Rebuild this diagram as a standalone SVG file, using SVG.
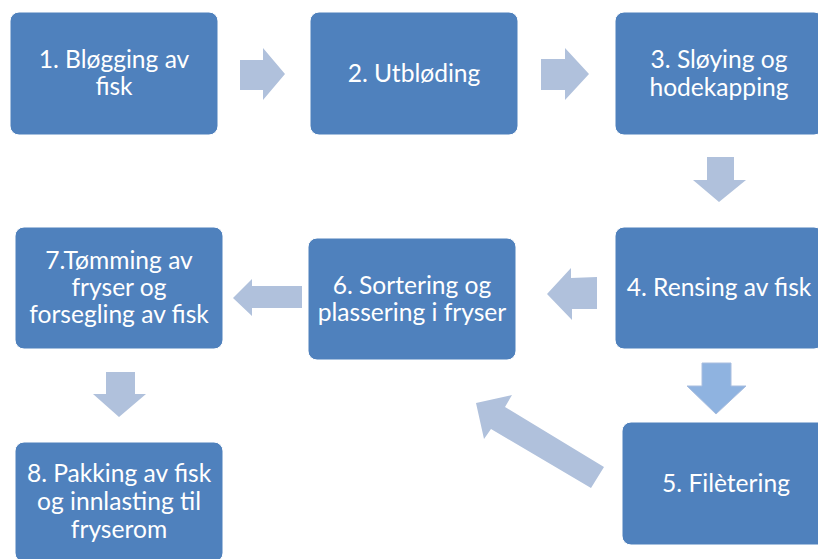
<svg xmlns="http://www.w3.org/2000/svg" width="818" height="559" viewBox="0 0 818 559">
<style>
.box{fill:#4F81BD;stroke:#ffffff;stroke-width:1}
.lbl{font-family:Lato,"Liberation Sans",sans-serif;font-size:24.6px;fill:#ffffff;text-anchor:middle}
.arr{fill:#B0C1DC}
.arr2{fill:#8FB3E0;stroke:#A9BEDF;stroke-width:1}
</style>
<rect width="818" height="559" fill="#ffffff"/>
<g id="connectors">
<polygon class="arr" points="240,60 263,60 263,48 285,74 263,100 263,90 240,90"/>
<polygon class="arr" points="541,59 565,59 565,48 589,74 565,100 565,90 541,90"/>
<polygon class="arr" points="707,157 734,157 734,180 746,180 719,202 693,180 707,180"/>
<polygon class="arr2" points="702,363 731,363 731,386 746,386 716,414 687,386 702,386"/>
<polygon class="arr" points="597,277 571,278 571,268 547,294 572,320 572,309 597,309"/>
<polygon class="arr" points="604,467 505,407 512,395 476,403 484,439 491,429 591,488"/>
<polygon class="arr" points="302,286 252,286 252,279 233,298 252,316 252,308 302,308"/>
<polygon class="arr" points="106,372 135,372 135,394 146,394 119,417 93,394 106,394"/>
</g>
<g id="n1"><rect class="box" x="10" y="12" width="208" height="123" rx="9"/><text class="lbl" x="114" y="68">1. Bløgging av</text><text class="lbl" x="114" y="95">fisk</text></g>
<g id="n2"><rect class="box" x="310" y="12" width="208" height="123" rx="9"/><text class="lbl" x="414" y="82">2. Utbløding</text></g>
<g id="n3"><rect class="box" x="615" y="12" width="208" height="123" rx="9"/><text class="lbl" x="719" y="68">3. Sløying og</text><text class="lbl" x="719" y="96">hodekapping</text></g>
<g id="n4"><rect class="box" x="615" y="227" width="208" height="122" rx="9"/><text class="lbl" x="719" y="296">4. Rensing av fisk</text></g>
<g id="n5"><rect class="box" x="622" y="422" width="208" height="123" rx="9"/><text class="lbl" x="726" y="492">5. Filètering</text></g>
<g id="n6"><rect class="box" x="308" y="238" width="208" height="122" rx="9"/><text class="lbl" x="412" y="294">6. Sortering og</text><text class="lbl" x="412" y="321">plassering i fryser</text></g>
<g id="n7"><rect class="box" x="15" y="227" width="208" height="122" rx="9"/><text class="lbl" x="119" y="269">7.Tømming av</text><text class="lbl" x="119" y="296">fryser og</text><text class="lbl" x="119" y="323">forsegling av fisk</text></g>
<g id="n8"><rect class="box" x="15" y="442" width="208" height="120" rx="9"/><text class="lbl" x="119" y="482">8. Pakking av fisk</text><text class="lbl" x="119" y="510">og innlasting til</text><text class="lbl" x="119" y="538">fryserom</text></g>
</svg>
